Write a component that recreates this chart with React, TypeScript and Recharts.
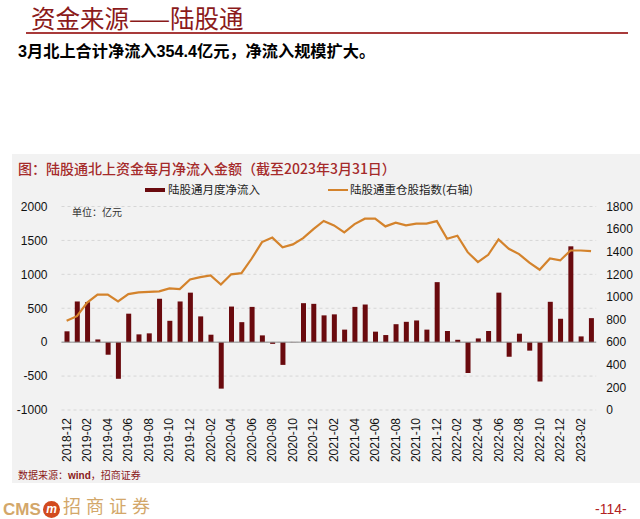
import * as React from "react";
import {
  Bar,
  CartesianGrid,
  ComposedChart,
  Line,
  ReferenceLine,
  XAxis,
  YAxis,
} from "recharts";

// month labels, 2018-12 .. 2023-03
const months = [
  "2018-12", "2019-01", "2019-02", "2019-03", "2019-04", "2019-05", "2019-06",
  "2019-07", "2019-08", "2019-09", "2019-10", "2019-11", "2019-12", "2020-01",
  "2020-02", "2020-03", "2020-04", "2020-05", "2020-06", "2020-07", "2020-08",
  "2020-09", "2020-10", "2020-11", "2020-12", "2021-01", "2021-02", "2021-03",
  "2021-04", "2021-05", "2021-06", "2021-07", "2021-08", "2021-09", "2021-10",
  "2021-11", "2021-12", "2022-01", "2022-02", "2022-03", "2022-04", "2022-05",
  "2022-06", "2022-07", "2022-08", "2022-09", "2022-10", "2022-11", "2022-12",
  "2023-01", "2023-02", "2023-03",
];

// 陆股通月度净流入 (亿元)
const netInflow = [
  160, 600, 590, 40, -185, -540, 420, 115, 130, 640, 315, 600, 730, 380, 110,
  -685, 525, 295, 520, 100, -25, -335, 3, 575, 565, 395, 410, 185, 520, 555,
  155, 105, 265, 300, 320, 185, 885, 165, 35, -455, 55, 165, 730, -215, 125,
  -125, -580, 595, 345, 1413, 85, 354.4,
];

// 陆股通重仓股指数 (右轴)
const heavyIndex = [
  790, 830, 950, 1020, 1020, 960, 1025, 1040, 1045, 1050, 1075, 1070, 1155,
  1175, 1190, 1110, 1200, 1210, 1340, 1485, 1525, 1440, 1465, 1520, 1600, 1672,
  1633, 1571, 1644, 1692, 1692, 1624, 1657, 1633, 1648, 1648, 1671, 1515, 1541,
  1396, 1308, 1373, 1509, 1426, 1379, 1303, 1241, 1341, 1323, 1411, 1411, 1405,
];

const leftTicks = [-1000, -500, 0, 500, 1000, 1500, 2000];
const rightTicks = [0, 200, 400, 600, 800, 1000, 1200, 1400, 1600, 1800];

const data = months.map((m, i) => ({
  month: m,
  inflow: netInflow[i],
  index: heavyIndex[i],
}));

const BAR = "#6a0a0e";
const LINE = "#d4832c";
const CJK = '"Noto Sans CJK SC", "Noto Sans", sans-serif';
const LATIN = '"Liberation Sans", Arial, sans-serif';

function MonthTick({ x, y, payload }: any) {
  return (
    <text
      x={x}
      y={y}
      transform={`rotate(-90 ${x} ${y})`}
      textAnchor="end"
      dominantBaseline="central"
      fontSize={12}
      fontFamily={LATIN}
      fill="#111"
    >
      {payload.value}
    </text>
  );
}

export default function App() {
  return (
    <div
      style={{
        position: "absolute",
        left: 0,
        top: 0,
        width: 640,
        height: 519,
        background: "#fff",
        overflow: "hidden",
        fontFamily: CJK,
      }}
    >
      <div style={{ position: "absolute", left: 31, top: 0, fontSize: 24.5, color: "#8b1a1a", whiteSpace: "nowrap" }}>
        资金来源——陆股通
      </div>
      <div style={{ position: "absolute", left: 26, top: 32, width: 602, height: 2, background: "#a83a3a" }} />
      <div style={{ position: "absolute", left: 18, top: 38, fontSize: 16.2, fontWeight: 700, color: "#000", whiteSpace: "nowrap" }}>
        <span style={{ fontFamily: LATIN }}>3</span>月北上合计净流入
        <span style={{ fontFamily: LATIN }}>354.4</span>亿元，净流入规模扩大。
      </div>

      {/* chart panel */}
      <div style={{ position: "absolute", left: 12, top: 154, width: 628, height: 329, background: "#f2f2f2" }} />
      <div style={{ position: "absolute", left: 18, top: 158, fontSize: 14, fontWeight: 500, color: "#a52a2a", whiteSpace: "nowrap" }}>
        图：陆股通北上资金每月净流入金额（截至2023年3月31日）
      </div>

      {/* legend */}
      <div style={{ position: "absolute", left: 145, top: 188, width: 20, height: 4, background: BAR }} />
      <div style={{ position: "absolute", left: 168, top: 181, fontSize: 11.5, color: "#222", whiteSpace: "nowrap" }}>
        陆股通月度净流入
      </div>
      <div style={{ position: "absolute", left: 328, top: 189, width: 20, height: 2, background: LINE }} />
      <div style={{ position: "absolute", left: 350, top: 181, fontSize: 11.5, color: "#222", whiteSpace: "nowrap" }}>
        陆股通重仓股指数(右轴)
      </div>
      <div style={{ position: "absolute", left: 72, top: 204, fontSize: 10, color: "#333", whiteSpace: "nowrap" }}>
        单位：亿元
      </div>

      <div style={{ position: "absolute", left: 0, top: 0 }}>
        <ComposedChart
          width={640}
          height={470}
          data={data}
          margin={{ top: 206.5, right: 0, bottom: 0, left: 0 }}
        >
          <CartesianGrid
            yAxisId="left"
            vertical={false}
            strokeDasharray="3 3"
            stroke="#d6d6d6"
          />
          <XAxis
            dataKey="month"
            interval={1}
            height={60}
            axisLine={false}
            tickLine={false}
            tick={<MonthTick />}
          />
          <YAxis
            yAxisId="left"
            width={61.5}
            domain={[-1000, 2000]}
            ticks={leftTicks}
            axisLine={false}
            tickLine={false}
            tickMargin={8}
            tick={{ fontSize: 12, fill: "#111", fontFamily: LATIN }}
          />
          <YAxis
            yAxisId="right"
            orientation="right"
            width={43.8}
            domain={[0, 1800]}
            ticks={rightTicks}
            axisLine={false}
            tickLine={false}
            tickMargin={4}
            tick={{ fontSize: 12, fill: "#111", fontFamily: LATIN }}
          />
          <Bar
            yAxisId="left"
            dataKey="inflow"
            fill={BAR}
            barSize={5}
            isAnimationActive={false}
          />
          <ReferenceLine yAxisId="left" y={0} stroke="#8c8c8c" strokeWidth={1} />
          <Line
            yAxisId="right"
            dataKey="index"
            type="linear"
            stroke={LINE}
            strokeWidth={2.2}
            dot={false}
            isAnimationActive={false}
          />
        </ComposedChart>
      </div>

      <div style={{ position: "absolute", left: 18, top: 467, fontSize: 10, color: "#8b1a1a", whiteSpace: "nowrap" }}>
        数据来源：<span style={{ fontFamily: LATIN, fontWeight: 700 }}>wind</span>，招商证券
      </div>

      {/* footer */}
      <div style={{ position: "absolute", left: 3, top: 500, fontSize: 17, fontWeight: 700, color: "#d3a76a", fontFamily: LATIN }}>
        CMS
      </div>
      <div
        style={{
          position: "absolute",
          left: 43,
          top: 501,
          width: 17,
          height: 17,
          borderRadius: "50%",
          background: "#d24a1e",
          color: "#fff",
          fontSize: 12,
          fontStyle: "italic",
          fontWeight: 700,
          textAlign: "center",
          lineHeight: "16px",
          fontFamily: LATIN,
        }}
      >
        m
      </div>
      <div style={{ position: "absolute", left: 63, top: 492, fontSize: 18, color: "#d3a76a", whiteSpace: "nowrap", letterSpacing: 5 }}>
        招商证券
      </div>
      <div style={{ position: "absolute", left: 595, top: 501, fontSize: 14, color: "#b22222", fontFamily: LATIN }}>
        -114-
      </div>
    </div>
  );
}
